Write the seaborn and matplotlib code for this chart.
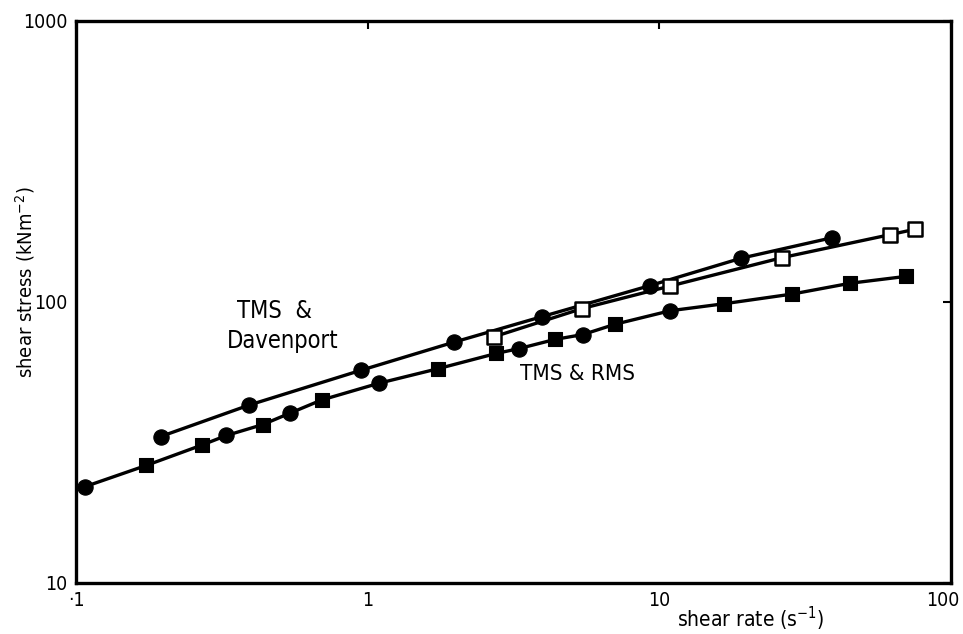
import numpy as np
import pandas as pd
import matplotlib
matplotlib.use("Agg")
import matplotlib.pyplot as plt
import matplotlib.transforms as mtransforms
import seaborn as sns

# TMS & RMS: filled circles and filled squares on one curve
rms_circle_x = [0.107, 0.328, 0.541, 1.094, 3.31, 5.47, 10.9]
rms_circle_y = [22.0, 33.5, 40.2, 51.4, 68.3, 76.6, 93.1]
rms_square_x = [0.174, 0.271, 0.436, 0.695, 1.743, 2.76, 4.39, 7.07, 16.7, 28.5, 45.1, 70.3]
rms_square_y = [26.2, 31.0, 36.6, 44.8, 57.9, 65.6, 73.6, 83.4, 98.6, 106.7, 116.6, 123.4]

# TMS & Davenport: filled circles and open squares
dav_circle_x = [0.195, 0.393, 0.946, 1.98, 3.96, 9.29, 19.1, 39.1]
dav_circle_y = [33.2, 43.0, 57.1, 72.0, 88.7, 114.4, 143.2, 169.3]
dav_open_x = [2.71, 5.44, 10.9, 26.4, 61.9, 75.5]
dav_open_y = [75.2, 94.8, 114.0, 143.9, 173.7, 181.6]

x_ticks = [0.1, 1, 10, 100]
x_tick_labels = ["\u00b71", "1", "10", "100"]
y_ticks = [10, 100, 1000]
y_tick_labels = ["10", "100", "1000"]

sns.set_style("white")
plt.rcParams["font.family"] = ["DejaVu Sans"]
plt.rcParams["font.stretch"] = "condensed"
plt.rcParams["mathtext.fontset"] = "dejavusans"
for key in ("text.color", "axes.labelcolor", "xtick.color", "ytick.color"):
    plt.rcParams[key] = "black"

fig = plt.figure(figsize=(9.63, 6.34), dpi=100)
ax = fig.add_axes([76 / 963, 1 - 583 / 634, (951 - 76) / 963, (583 - 21) / 634])

rms = pd.DataFrame({
    "rate": rms_circle_x + rms_square_x,
    "stress": rms_circle_y + rms_square_y,
}).sort_values("rate")
dav_c = pd.DataFrame({"rate": dav_circle_x, "stress": dav_circle_y})
dav_o = pd.DataFrame({"rate": dav_open_x, "stress": dav_open_y})

line_kw = dict(color="black", linewidth=2.4, estimator=None, sort=False, legend=False)
sns.lineplot(data=rms, x="rate", y="stress", ax=ax, **line_kw)
sns.lineplot(data=dav_c, x="rate", y="stress", ax=ax, **line_kw)
sns.lineplot(data=dav_o, x="rate", y="stress", ax=ax, **line_kw)

sns.scatterplot(x=rms_circle_x, y=rms_circle_y, marker="o", s=120, color="black",
                edgecolor="black", ax=ax, zorder=5)
sns.scatterplot(x=rms_square_x, y=rms_square_y, marker="s", s=95, color="black",
                edgecolor="black", ax=ax, zorder=5)
sns.scatterplot(x=dav_circle_x, y=dav_circle_y, marker="o", s=120, color="black",
                edgecolor="black", ax=ax, zorder=5)
sns.scatterplot(x=dav_open_x, y=dav_open_y, marker="s", s=95, color="white",
                edgecolor="black", linewidth=1.8, ax=ax, zorder=6)

ax.set_xscale("log")
ax.set_yscale("log")
ax.set_xlim(0.1, 100)
ax.set_ylim(10, 1000)
ax.set_xticks(x_ticks)
ax.set_xticklabels(x_tick_labels)
ax.set_yticks(y_ticks)
ax.set_yticklabels(y_tick_labels)
ax.minorticks_off()
ax.tick_params(axis="both", which="major", direction="in", length=6, width=1.5,
               top=True, right=True, labelsize=14, pad=6, colors="black")
ax.set_xlabel("")
ax.set_ylabel("")
for sp in ax.spines.values():
    sp.set_visible(True)
    sp.set_linewidth(2.4)
    sp.set_color("black")

# keep the last x label inside the figure
last = ax.get_xticklabels()[-1]
last.set_transform(last.get_transform() +
                   mtransforms.ScaledTranslation(-8 / 100, 0, fig.dpi_scale_trans))

ax.text(0.48, 93, "TMS  &", fontsize=17, ha="center", va="center")
ax.text(0.512, 72.6, "Davenport", fontsize=17, ha="center", va="center")
ax.text(5.26, 55.4, "TMS & RMS", fontsize=16, ha="center", va="center")

fig.text(751 / 963, 1 - 619 / 634, "shear rate (s$^{-1}$)", fontsize=15,
         ha="center", va="center")
fig.text(25 / 963, 1 - 282 / 634, "shear stress (kNm$^{-2}$)", fontsize=14.5,
         ha="center", va="center", rotation=90)

fig.savefig("out.png", dpi=100, facecolor="white")
